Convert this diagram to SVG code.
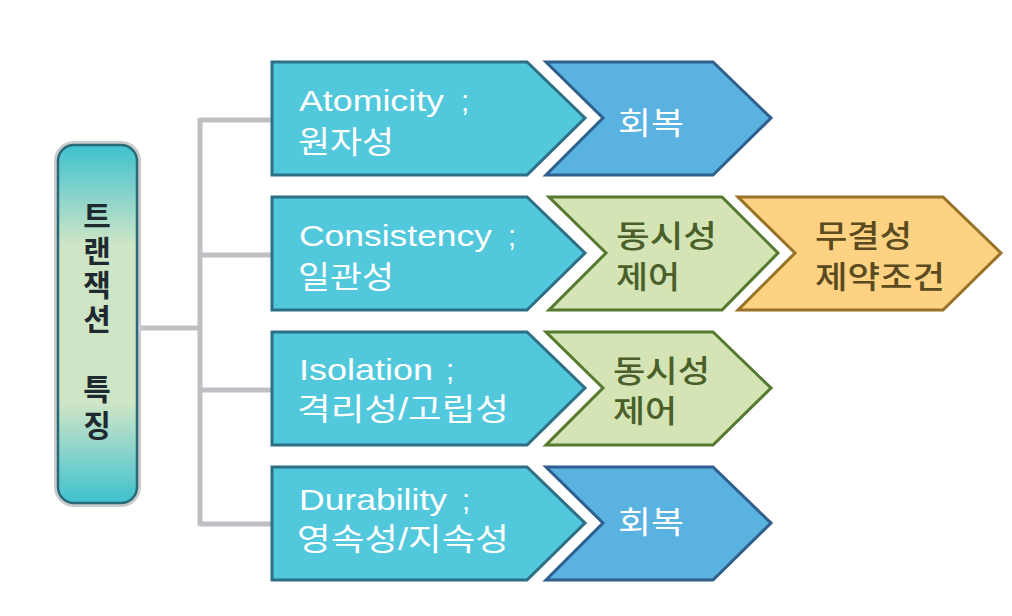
<svg xmlns="http://www.w3.org/2000/svg" width="1012" height="616" viewBox="0 0 1012 616">
<defs>
<linearGradient id="lg" x1="0" y1="0" x2="0" y2="1">
<stop offset="0" stop-color="#3fc1cf"/>
<stop offset="0.28" stop-color="#cfe6c6"/>
<stop offset="0.72" stop-color="#cfe6c6"/>
<stop offset="1" stop-color="#3fc1cf"/>
</linearGradient>
<style>
.cy{fill:#52c8dc;stroke:#2d6f85;stroke-width:3;stroke-linejoin:miter}
.bl{fill:#5ab2e1;stroke:#2f5f8c;stroke-width:3}
.gr{fill:#d4e4b5;stroke:#557a2f;stroke-width:3}
.or{fill:#fdd283;stroke:#987226;stroke-width:3}
text{font-family:"Liberation Sans","Noto Sans CJK KR",sans-serif;font-size:31px}
.lat{font-size:29px}
.w{fill:#ffffff}
.g{fill:#4a5f2a;font-weight:500}
.o{fill:#5a4a20;font-weight:500}
.k{fill:#1f2a30;font-weight:bold;font-size:30px}
.ln{stroke:#bfc0c3;stroke-width:5;fill:none}
</style>
</defs>
<g id="connectors">
<path class="ln" d="M137 328 H200 M200 118 V526 M200 120 H272 M200 255 H272 M200 390 H272 M200 524 H272"/>
</g>
<g id="root">
<rect x="54" y="141" width="87" height="366" rx="20" fill="#c9cacc"/>
<rect x="58" y="145" width="79" height="358" rx="16" fill="url(#lg)" stroke="#2a6a78" stroke-width="2.5"/>
<text class="k" x="97" y="227" text-anchor="middle">트</text>
<text class="k" x="97" y="262" text-anchor="middle">랜</text>
<text class="k" x="97" y="296" text-anchor="middle">잭</text>
<text class="k" x="97" y="330" text-anchor="middle">션</text>
<text class="k" x="97" y="400" text-anchor="middle">특</text>
<text class="k" x="97" y="436" text-anchor="middle">징</text>
</g>
<g id="atomicity">
<polygon class="cy" points="272,62 527,62 585,118 527,175 272,175"/>
<text class="w lat" x="299" y="111"><tspan textLength="145" lengthAdjust="spacingAndGlyphs">Atomicity</tspan> <tspan x="461">;</tspan></text>
<text class="w" x="298" y="153" textLength="96" lengthAdjust="spacingAndGlyphs">원자성</text>
</g>
<g id="atomicity-recovery">
<polygon class="bl" points="546,62 713,62 771,118 713,175 546,175 603,118"/>
<text class="w" x="618" y="134" textLength="66" lengthAdjust="spacingAndGlyphs">회복</text>
</g>
<g id="consistency">
<polygon class="cy" points="272,197 527,197 585,253 527,310 272,310"/>
<text class="w lat" x="299" y="246"><tspan textLength="193" lengthAdjust="spacingAndGlyphs">Consistency</tspan> <tspan x="508">;</tspan></text>
<text class="w" x="298" y="288" textLength="96" lengthAdjust="spacingAndGlyphs">일관성</text>
</g>
<g id="consistency-cc">
<polygon class="gr" points="549,197 722,197 778,253 722,310 549,310 606,253"/>
<text class="g" x="616" y="247" textLength="101" lengthAdjust="spacingAndGlyphs">동시성</text>
<text class="g" x="616" y="288" textLength="64" lengthAdjust="spacingAndGlyphs">제어</text>
</g>
<g id="integrity">
<polygon class="or" points="738,197 943,197 1001,253 943,310 738,310 795,253"/>
<text class="o" x="815" y="247" textLength="97" lengthAdjust="spacingAndGlyphs">무결성</text>
<text class="o" x="815" y="288" textLength="130" lengthAdjust="spacingAndGlyphs">제약조건</text>
</g>
<g id="isolation">
<polygon class="cy" points="272,332 527,332 585,388 527,445 272,445"/>
<text class="w lat" x="299" y="380"><tspan textLength="134" lengthAdjust="spacingAndGlyphs">Isolation</tspan> <tspan x="446">;</tspan></text>
<text class="w" x="297" y="420" textLength="212" lengthAdjust="spacingAndGlyphs">격리성/고립성</text>
</g>
<g id="isolation-cc">
<polygon class="gr" points="546,332 713,332 771,388 713,445 546,445 603,388"/>
<text class="g" x="613" y="382" textLength="97" lengthAdjust="spacingAndGlyphs">동시성</text>
<text class="g" x="613" y="422" textLength="64" lengthAdjust="spacingAndGlyphs">제어</text>
</g>
<g id="durability">
<polygon class="cy" points="272,467 527,467 585,523 527,580 272,580"/>
<text class="w lat" x="299" y="510"><tspan textLength="148" lengthAdjust="spacingAndGlyphs">Durability</tspan> <tspan x="462">;</tspan></text>
<text class="w" x="297" y="550" textLength="212" lengthAdjust="spacingAndGlyphs">영속성/지속성</text>
</g>
<g id="durability-recovery">
<polygon class="bl" points="546,467 713,467 771,523 713,580 546,580 603,523"/>
<text class="w" x="618" y="533" textLength="66" lengthAdjust="spacingAndGlyphs">회복</text>
</g>
</svg>
